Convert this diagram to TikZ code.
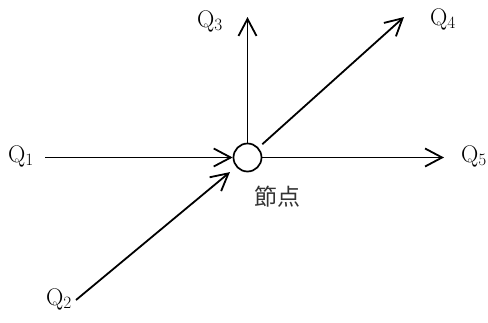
\documentclass[tikz,border=0pt]{standalone}
\usepackage{fontspec}
\newfontfamily\cjk{Noto Sans CJK JP}
\usetikzlibrary{arrows.meta}
\begin{document}
\begin{tikzpicture}[x=1pt,y=-1pt,
  lbl/.style={font=\fontsize{24}{28}\selectfont, inner sep=0pt},
  arr/.style={line width=1.8pt, -{Straight Barb[length=17pt,width=18pt,line width=1.8pt]}}]
\useasboundingbox (0,0) rectangle (488,322);
\node[circle, draw, line width=1.7pt, minimum size=28pt, inner sep=0pt] (c) at (247.5,157.5) {};
\node[lbl] (q1) at (21,156) {Q$_1$};
\node[lbl] (q2) at (59,299) {Q$_2$};
\node[lbl] (q3) at (210,21) {Q$_3$};
\node[lbl] (q4) at (443,19) {Q$_4$};
\node[lbl] (q5) at (474,156) {Q$_5$};
\node[font=\cjk\fontsize{23}{26}\selectfont, inner sep=0pt, text=black!80] (lab) at (277,197) {節点};
\coordinate (s1) at (45,157.5);
\coordinate (s2) at (76,300);
\coordinate (e3) at (247.5,17);
\coordinate (e4) at (404,17);
\coordinate (e5) at (444,157.5);
\draw[arr] (s1) -- (c);
\draw[arr, shorten >=8pt] (s2) -- (c);
\draw[arr] (c) -- (e3);
\draw[arr, shorten <=5pt] (c) -- (e4);
\draw[arr] (c) -- (e5);
\end{tikzpicture}
\end{document}
